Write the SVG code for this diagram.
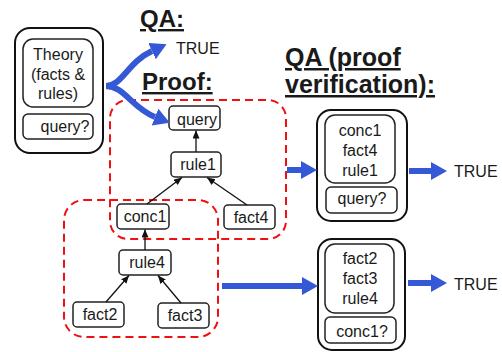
<svg xmlns="http://www.w3.org/2000/svg" width="502" height="352" viewBox="0 0 502 352">
<defs>
<style>
text{font-family:"Liberation Sans",Arial,sans-serif;fill:#1a1a1a;}
.t{font-size:16px;text-anchor:middle;}
.title{font-size:25px;font-weight:bold;text-decoration:underline;}
.outer{fill:#fff;stroke:#111;stroke-width:2;}
.inner{fill:#fff;stroke:#222;stroke-width:1.5;}
.node{fill:#fff;stroke:#222;stroke-width:1.5;}
.dash{fill:none;stroke:#f01010;stroke-width:2;stroke-dasharray:8,5;}
.blue{fill:none;stroke:#3558d6;stroke-width:6;}
.edge{fill:none;stroke:#111;stroke-width:1.3;}
</style>
<marker id="bh" markerUnits="userSpaceOnUse" markerWidth="18" markerHeight="20" refX="0" refY="9" orient="auto">
<path d="M0,0 L16,9 L0,18 z" fill="#3558d6"/>
</marker>
<marker id="ah" markerUnits="userSpaceOnUse" markerWidth="9" markerHeight="8" refX="8" refY="3.5" orient="auto">
<path d="M0,0 L8,3.5 L0,7 z" fill="#111"/>
</marker>
</defs>
<rect width="502" height="352" fill="#fff"/>

<g id="titles">
<text class="title" x="140" y="27" style="font-size:24px">QA:</text>
<text class="title" x="142" y="90" style="font-size:24px">Proof:</text>
<text class="title" x="285" y="66">QA (proof</text>
<text class="title" x="285" y="93">verification):</text>
</g>

<g id="regions">
<rect id="proof1" class="dash" x="110" y="100" width="176" height="139" rx="18"/>
<rect id="proof2" class="dash" x="64" y="200" width="154" height="137" rx="20"/>
</g>

<g id="theory">
<rect class="outer" x="15" y="28" width="88" height="125" rx="15"/>
<rect class="inner" x="23" y="39" width="70" height="68" rx="10"/>
<text class="t" x="58" y="60">Theory</text>
<text class="t" x="58" y="80">(facts &amp;</text>
<text class="t" x="58" y="99">rules)</text>
<rect class="inner" x="23" y="114" width="70" height="25" rx="5"/>
<text class="t" x="65" y="132">query?</text>
</g>

<g id="true1"><text x="176" y="54" style="font-size:16px">TRUE</text></g>

<g id="query"><rect class="node" x="169" y="106" width="51" height="24" rx="4"/><text class="t" x="197" y="125">query</text></g>
<g id="rule1"><rect class="node" x="171" y="152" width="50" height="25" rx="4"/><text class="t" x="198" y="170">rule1</text></g>
<g id="conc1"><rect class="node" x="117" y="204" width="52" height="25" rx="4"/><text class="t" x="145" y="222">conc1</text></g>
<g id="fact4"><rect class="node" x="224" y="205" width="51" height="24" rx="4"/><text class="t" x="251" y="223">fact4</text></g>
<g id="rule4"><rect class="node" x="119" y="250" width="52" height="25" rx="4"/><text class="t" x="147" y="268">rule4</text></g>
<g id="fact2"><rect class="node" x="73" y="302" width="51" height="25" rx="4"/><text class="t" x="100" y="320">fact2</text></g>
<g id="fact3"><rect class="node" x="158" y="303" width="51" height="25" rx="4"/><text class="t" x="185" y="321">fact3</text></g>

<g id="qa1">
<rect class="outer" x="317" y="110" width="90" height="111" rx="14"/>
<rect class="inner" x="325" y="115" width="70" height="68" rx="10"/>
<text class="t" x="360" y="136">conc1</text>
<text class="t" x="360" y="156">fact4</text>
<text class="t" x="360" y="176">rule1</text>
<rect class="inner" x="326" y="187" width="71" height="26" rx="5"/>
<text class="t" x="362" y="204">query?</text>
</g>
<g id="true2"><text x="454" y="177" style="font-size:16px">TRUE</text></g>

<g id="qa2">
<rect class="outer" x="318" y="239" width="87" height="111" rx="14"/>
<rect class="inner" x="325" y="244" width="69" height="69" rx="10"/>
<text class="t" x="360" y="264">fact2</text>
<text class="t" x="360" y="284">fact3</text>
<text class="t" x="360" y="304">rule4</text>
<rect class="inner" x="325" y="317" width="71" height="26" rx="5"/>
<text class="t" x="362" y="337">conc1?</text>
</g>
<g id="true3"><text x="454" y="290" style="font-size:16px">TRUE</text></g>

<g id="connectors">
<path class="blue" d="M106,86 C122,86 128,62 152,51" marker-end="url(#bh)"/>
<path class="blue" d="M106,86 C124,86 132,108 155,117" marker-end="url(#bh)"/>
<line class="blue" x1="287" y1="170" x2="301" y2="170" marker-end="url(#bh)"/>
<line class="blue" x1="409" y1="171" x2="431" y2="171" marker-end="url(#bh)"/>
<line class="blue" x1="222" y1="286" x2="302" y2="286" marker-end="url(#bh)"/>
<line class="blue" x1="408" y1="283" x2="431" y2="283" marker-end="url(#bh)"/>
<line class="edge" x1="196" y1="152" x2="196" y2="130.5" marker-end="url(#ah)"/>
<line class="edge" x1="147" y1="204" x2="182" y2="177.5" marker-end="url(#ah)"/>
<line class="edge" x1="247" y1="205" x2="207" y2="177.5" marker-end="url(#ah)"/>
<line class="edge" x1="145" y1="250" x2="145" y2="229.5" marker-end="url(#ah)"/>
<line class="edge" x1="106" y1="302" x2="129" y2="275.5" marker-end="url(#ah)"/>
<line class="edge" x1="181" y1="303" x2="158" y2="275.5" marker-end="url(#ah)"/>
</g>
</svg>
